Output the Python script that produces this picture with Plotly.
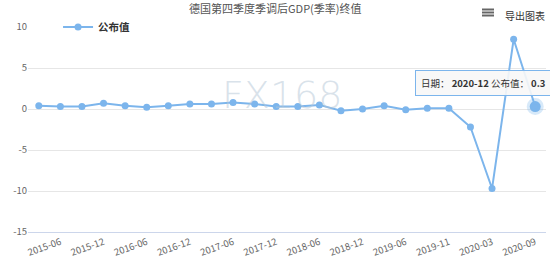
import plotly.graph_objects as go

dates = ["2015-03", "2015-06", "2015-09", "2015-12", "2016-03", "2016-06", "2016-09", "2016-12",
         "2017-03", "2017-06", "2017-09", "2017-12", "2018-03", "2018-06", "2018-09", "2018-12",
         "2019-03", "2019-06", "2019-09", "2019-12", "2020-03", "2020-06", "2020-09", "2020-12"]
values = [0.4, 0.3, 0.3, 0.7, 0.4, 0.2, 0.4, 0.6, 0.6, 0.8, 0.6, 0.3,
          0.3, 0.5, -0.2, 0.0, 0.4, -0.1, 0.1, 0.1, -2.2, -9.7, 8.5, 0.3]
tick_positions = [dates[i] for i in range(1, 24, 2)]
tick_labels = ["2015-06", "2015-12", "2016-06", "2016-12", "2017-06", "2017-12",
               "2018-06", "2018-12", "2019-06", "2019-11", "2020-03", "2020-09"]
y_ticks = [-15, -10, -5, 0, 5, 10]
y_labels = ["-15", "-10", "-5", "0", "5", "10"]

FONT = "Noto Sans CJK SC"
COLOR = "#7cb5ec"

# plot area in pixels
L, R, T, B = 28, 546, 27, 232
W, H = 550, 268
def px(x):
    return (x - L) / (R - L)
def py(y):
    return (B - y) / (B - T)

fig = go.Figure()
fig.add_trace(go.Scatter(
    x=dates, y=values, mode="lines+markers", name="公布值",
    line=dict(color=COLOR, width=2),
    marker=dict(color=COLOR, size=7),
    hoverinfo="skip",
))
# hovered point halo
fig.add_trace(go.Scatter(
    x=[dates[-1]], y=[values[-1]], mode="markers", showlegend=False,
    marker=dict(color=COLOR, size=11, line=dict(color="rgba(124,181,236,0.3)", width=6)),
    hoverinfo="skip",
))

annotations = [
    dict(text="德国第四季度季调后GDP(季率)终值", xref="paper", yref="paper",
         x=px(275), y=py(8), xanchor="center", yanchor="middle", showarrow=False,
         font=dict(family=FONT, size=11, color="#555")),
    dict(text="导出图表", xref="paper", yref="paper",
         x=px(503), y=py(16), xanchor="left", yanchor="middle", showarrow=False,
         font=dict(family=FONT, size=10, color="#333")),
    dict(text="FX168", xref="paper", yref="paper",
         x=px(282), y=py(95), xanchor="center", yanchor="middle", showarrow=False,
         font=dict(family="DejaVu Sans", size=38, color="rgba(180,198,214,0.5)", weight=200)),
    dict(text="日期： <b>" + dates[-1] + "</b> 公布值： <b>" + str(values[-1]) + "</b>",
         xref="paper", yref="paper",
         x=px(415), y=py(82.5), xanchor="left", yanchor="middle", showarrow=False,
         align="left", bgcolor="rgba(247,247,247,0.9)", bordercolor=COLOR, borderwidth=1,
         borderpad=5, font=dict(family=FONT, size=9.5, color="#333")),
]

shapes = []
for yy in [9.5, 12.5, 15.5]:
    shapes.append(dict(type="line", xref="paper", yref="paper",
                       x0=px(482), x1=px(494), y0=py(yy), y1=py(yy),
                       line=dict(color="#666", width=2)))

fig.update_layout(
    width=W, height=H,
    margin=dict(l=L, r=W - R, t=T, b=H - B),
    paper_bgcolor="white", plot_bgcolor="white",
    font=dict(family=FONT, size=10, color="#666"),
    showlegend=True,
    legend=dict(x=0.058, y=1.0, xanchor="left", yanchor="middle", orientation="h",
                itemwidth=30,
                bgcolor="white", font=dict(family=FONT, size=10.5, color="#333", weight="bold")),
    xaxis=dict(type="category", tickvals=tick_positions, ticktext=tick_labels,
               range=[-0.5, len(dates) - 0.5], autorange=False,
               tickangle=-20, showgrid=False, showline=True, linecolor="#ccd6eb",
               tickfont=dict(size=9.5, color="#666"), ticks="", fixedrange=True),
    yaxis=dict(range=[-15, 10], tickvals=y_ticks, ticktext=y_labels,
               gridcolor="#e6e6e6", zeroline=False, showline=False,
               tickfont=dict(size=9.5, color="#666"), ticks="", fixedrange=True),
    annotations=annotations,
    shapes=shapes,
)

fig.write_html("out.html")
